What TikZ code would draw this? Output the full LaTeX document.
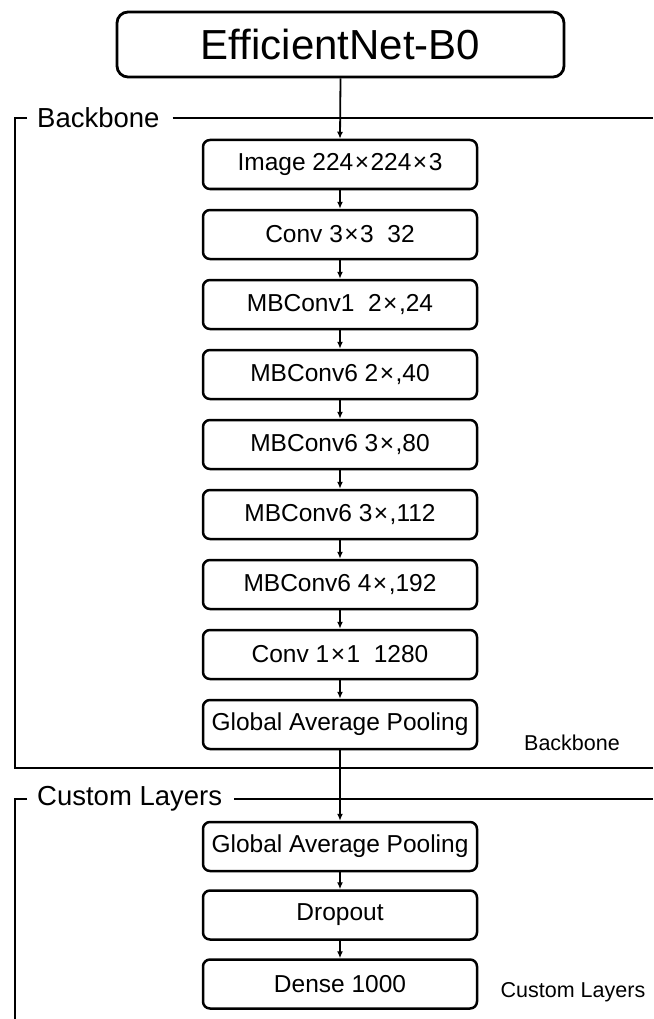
\documentclass[tikz,border=0pt]{standalone}
\usepackage{fontspec}
\setmainfont{Liberation Sans}
\usetikzlibrary{arrows.meta}
\begin{document}
\begin{tikzpicture}[x=1pt,y=-1pt,
  layer/.style={draw=black,line width=2.5pt,rounded corners=7pt,
    minimum width=274pt,minimum height=49pt,inner sep=0pt,
    font=\fontsize{24.5}{24.5}\selectfont},
  titlebox/.style={draw=black,line width=2.8pt,rounded corners=11pt,
    minimum width=447pt,minimum height=65pt,inner sep=0pt,
    font=\fontsize{42}{42}\selectfont},
  flow/.style={line width=1.8pt,-{Latex[length=7pt,width=6pt]}},
  frame/.style={line width=2.1pt},
  framelabel/.style={inner sep=0pt,anchor=west,font=\fontsize{27.5}{27.5}\selectfont},
  sidelabel/.style={inner sep=0pt,font=\fontsize{21.5}{21.5}\selectfont}]
\useasboundingbox[fill=white] (0,0) rectangle (653,1019);
\newcommand{\tm}{\kern1.5pt×\kern1.5pt}

% title
\node[titlebox] (net) at (340.5,44.5) {EfficientNet-B0};

% backbone frame
\node[framelabel] (bbl) at (37,118) {Backbone};
\draw[frame] (27,118) -- (15,118) -- (15,768) -- (653,768);
\draw[frame] ([xshift=13pt]bbl.east) -- (653,118);
\node[sidelabel] (bbs) at (572,743) {Backbone};

% backbone layers
\node[layer] (l1) at (340,164.5) {Image 224\tm224\tm3};
\node[layer] (l2) at (340,234.5) {Conv 3\tm3\ \ 32};
\node[layer] (l3) at (340,304.5) {MBConv1\ \ 2\tm,24};
\node[layer] (l4) at (340,374.5) {MBConv6 2\tm,40};
\node[layer] (l5) at (340,444.5) {MBConv6 3\tm,80};
\node[layer] (l6) at (340,514.5) {MBConv6 3\tm,112};
\node[layer] (l7) at (340,584.5) {MBConv6 4\tm,192};
\node[layer] (l8) at (340,654.5) {Conv 1\tm1\ \ 1280};
\node[layer] (l9) at (340,724.5) {Global Average Pooling};

% custom layers frame
\node[framelabel] (cll) at (37,799) {Custom Layers};
\draw[frame] (27,799) -- (15,799) -- (15,1019);
\draw[frame] ([xshift=12pt]cll.east) -- (653,799);
\node[sidelabel] (cls) at (573,992) {Custom Layers};

% head layers
\node[layer] (c1) at (340,846.5) {Global Average Pooling};
\node[layer] (c2) at (340,915) {Dropout};
\node[layer] (c3) at (340,984) {Dense 1000};

% connectors
\draw[flow] (net.south) -- (l1.north);
\foreach \a/\b in {l1/l2,l2/l3,l3/l4,l4/l5,l5/l6,l6/l7,l7/l8,l8/l9,l9/c1,c1/c2,c2/c3}
  \draw[flow] (\a.south) -- (\b.north);
\end{tikzpicture}
\end{document}
